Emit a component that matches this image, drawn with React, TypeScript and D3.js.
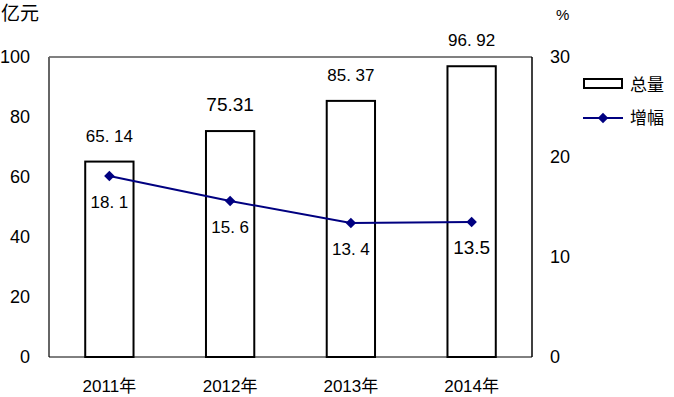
import { useRef, useEffect } from "react";
import * as d3 from "d3";

const years = ["2011年", "2012年", "2013年", "2014年"];
const totals = [65.14, 75.31, 85.37, 96.92];
const totalLabels = ["65. 14", "75.31", "85. 37", "96. 92"];
const growth = [18.1, 15.6, 13.4, 13.5];
const growthLabels = ["18. 1", "15. 6", "13. 4", "13.5"];
const leftTicks = [0, 20, 40, 60, 80, 100];
const rightTicks = [0, 10, 20, 30];

const W = 674;
const H = 397;
const FONT = "'Liberation Sans', 'Noto Sans CJK SC', sans-serif";

export default function App() {
  const svgRef = useRef<SVGSVGElement>(null);

  useEffect(() => {
    if (!svgRef.current) return;
    const svg = d3.select(svgRef.current);
    svg.selectAll("*").remove();

    const left = 49;
    const right = 532;
    const top = 57;
    const bottom = 357;

    const x = d3
      .scaleBand<string>()
      .domain(years)
      .range([left, right])
      .paddingInner(0.6)
      .paddingOuter(0.3);
    const yL = d3.scaleLinear().domain([0, 100]).range([bottom, top]);
    const yR = d3.scaleLinear().domain([0, 30]).range([bottom, top]);

    // frame
    svg.append("line").attr("x1", left).attr("x2", right).attr("y1", top).attr("y2", top)
      .attr("stroke", "#808080").attr("stroke-width", 2);
    svg.append("line").attr("x1", left).attr("x2", left).attr("y1", top).attr("y2", bottom)
      .attr("stroke", "#666").attr("stroke-width", 2);
    svg.append("line").attr("x1", right).attr("x2", right).attr("y1", top).attr("y2", bottom)
      .attr("stroke", "#000").attr("stroke-width", 1.5);
    svg.append("line").attr("x1", left).attr("x2", right).attr("y1", bottom).attr("y2", bottom)
      .attr("stroke", "#000").attr("stroke-width", 1);

    // axis labels
    svg.append("g").selectAll("text").data(leftTicks).join("text")
      .attr("x", 30).attr("y", (d) => yL(d)).attr("dy", "0.36em")
      .attr("text-anchor", "end").attr("font-size", 18).attr("font-family", FONT)
      .text((d) => d);
    svg.append("g").selectAll("text").data(rightTicks).join("text")
      .attr("x", 550).attr("y", (d) => yR(d)).attr("dy", "0.36em")
      .attr("text-anchor", "start").attr("font-size", 18).attr("font-family", FONT)
      .text((d) => d);

    svg.append("text").attr("x", 1).attr("y", 20).attr("font-size", 19)
      .attr("font-family", FONT).text("亿元");
    svg.append("text").attr("x", 556).attr("y", 20).attr("font-size", 15)
      .attr("font-family", FONT).text("%");

    // x labels
    svg.append("g").selectAll("text").data(years).join("text")
      .attr("x", (d) => x(d)! + x.bandwidth() / 2).attr("y", 392)
      .attr("text-anchor", "middle").attr("font-size", 17).attr("font-family", FONT)
      .text((d) => d);

    // bars
    svg.append("g").selectAll("rect").data(totals).join("rect")
      .attr("x", (_, i) => x(years[i])!)
      .attr("y", (d) => yL(d))
      .attr("width", x.bandwidth())
      .attr("height", (d) => bottom - yL(d))
      .attr("fill", "#fff").attr("stroke", "#000").attr("stroke-width", 2);

    svg.append("g").selectAll("text").data(totals).join("text")
      .attr("x", (_, i) => x(years[i])! + x.bandwidth() / 2)
      .attr("y", (d) => yL(d) - 20)
      .attr("text-anchor", "middle").attr("font-size", (_, i) => (i === 1 ? 19 : 17))
      .attr("font-family", FONT)
      .text((_, i) => totalLabels[i]);

    // line
    const line = d3.line<number>()
      .x((_, i) => x(years[i])! + x.bandwidth() / 2)
      .y((d) => yR(d));
    svg.append("path").datum(growth).attr("d", line)
      .attr("fill", "none").attr("stroke", "#000080").attr("stroke-width", 2);

    const diamond = d3.symbol().type(d3.symbolDiamond2).size(70);
    svg.append("g").selectAll("path").data(growth).join("path")
      .attr("d", diamond)
      .attr("transform", (d, i) => `translate(${x(years[i])! + x.bandwidth() / 2},${yR(d)})`)
      .attr("fill", "#000080");

    svg.append("g").selectAll("text").data(growth).join("text")
      .attr("x", (_, i) => x(years[i])! + x.bandwidth() / 2)
      .attr("y", (d) => yR(d) + 32)
      .attr("text-anchor", "middle").attr("font-size", (_, i) => (i === 3 ? 19 : 17))
      .attr("font-family", FONT)
      .text((_, i) => growthLabels[i]);

    // legend
    svg.append("rect").attr("x", 584).attr("y", 79).attr("width", 38).attr("height", 9)
      .attr("fill", "#fff").attr("stroke", "#000").attr("stroke-width", 2);
    svg.append("text").attr("x", 630).attr("y", 91).attr("font-size", 17)
      .attr("font-family", FONT).text("总量");
    svg.append("line").attr("x1", 583).attr("x2", 623).attr("y1", 118).attr("y2", 118)
      .attr("stroke", "#000080").attr("stroke-width", 2);
    svg.append("path").attr("d", diamond).attr("transform", "translate(603,118)")
      .attr("fill", "#000080");
    svg.append("text").attr("x", 630).attr("y", 124).attr("font-size", 17)
      .attr("font-family", FONT).text("增幅");
  }, []);

  return (
    <svg
      ref={svgRef}
      width={W}
      height={H}
      style={{ position: "absolute", left: 0, top: 0, background: "#fff" }}
    />
  );
}
